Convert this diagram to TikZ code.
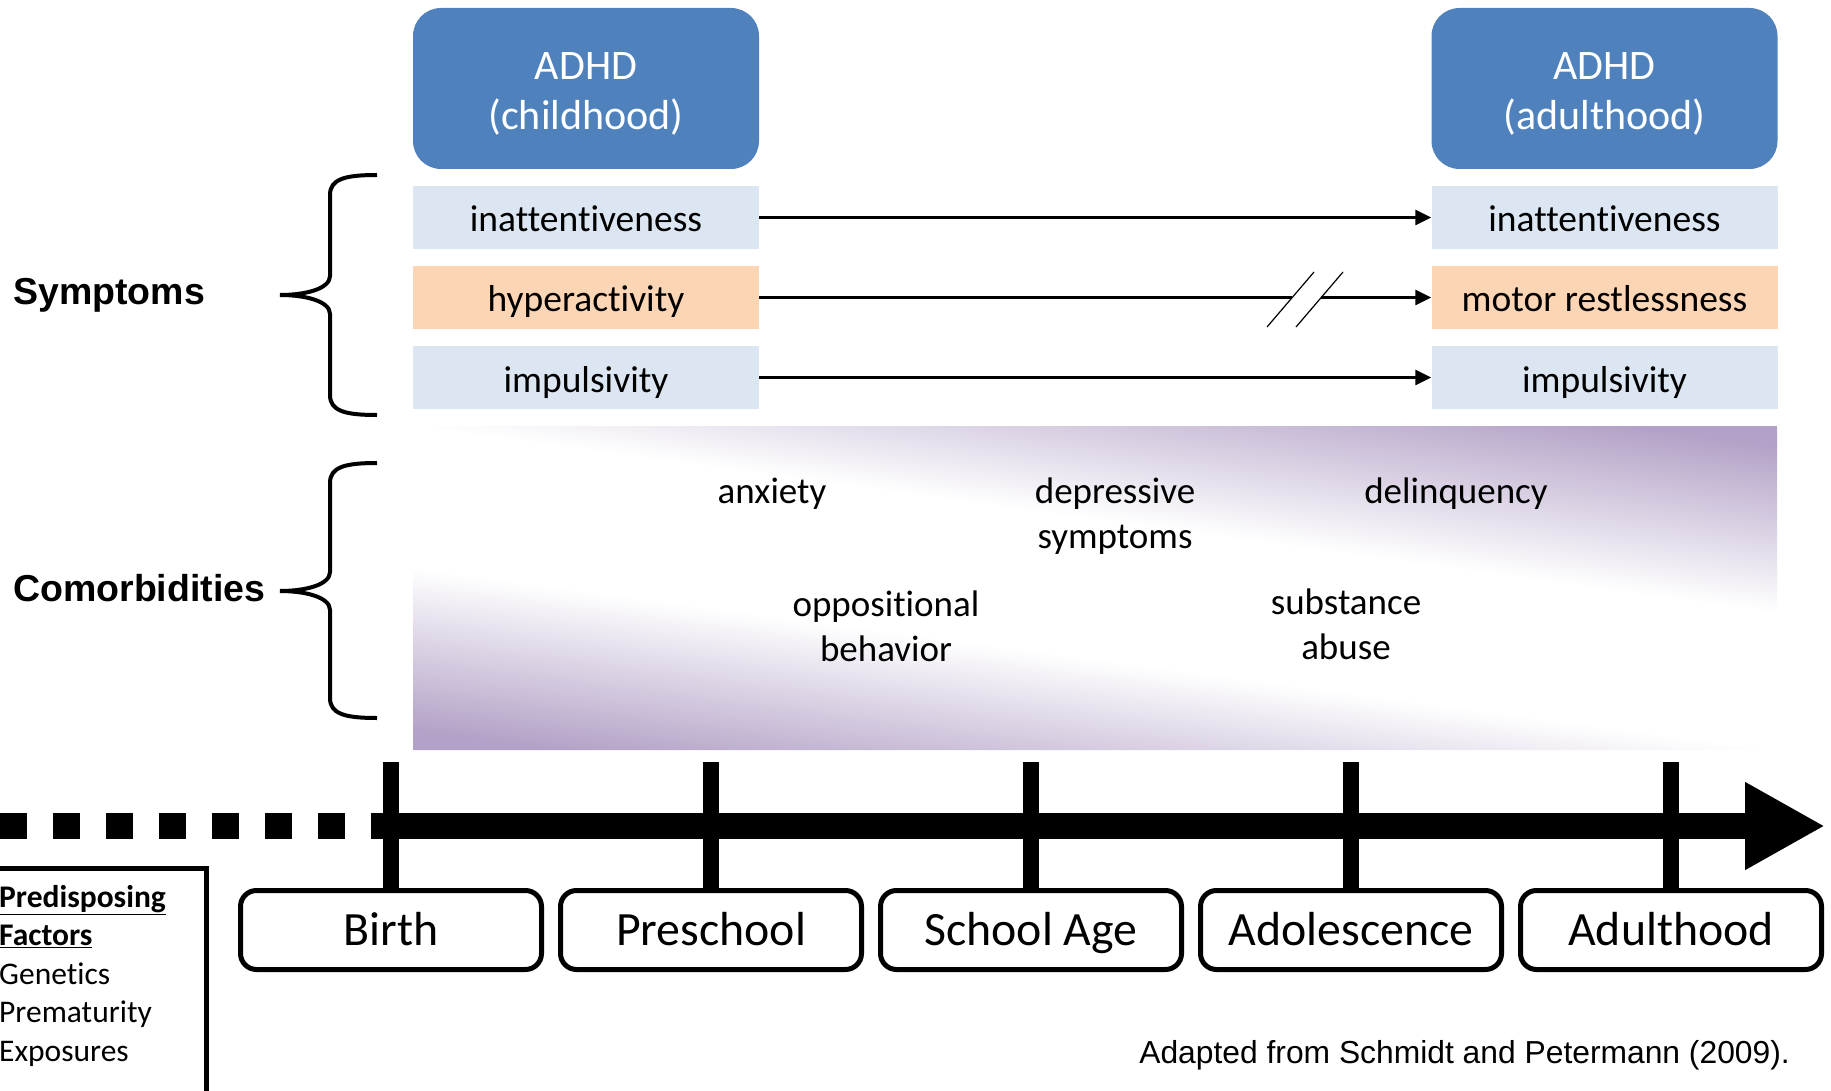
\documentclass[tikz,border=0pt]{standalone}
\usepackage{fontspec}
\setmainfont{Carlito}[Ligatures=NoCommon]
\newfontfamily\arialfont{Liberation Sans}
\usetikzlibrary{arrows.meta}

\definecolor{adhdblue}{HTML}{4F81BD}
\definecolor{symblue}{HTML}{DCE6F2}
\definecolor{symorange}{HTML}{FCD5B5}
\definecolor{comorbpurple}{HTML}{B3A2C7}

\begin{document}
\begin{tikzpicture}[x=1pt,y=-1pt]
	\tikzset{headbox/.style={fill=adhdblue,text=white,rounded corners=28pt,minimum width=346pt,minimum height=161pt,inner sep=0pt,align=center,text height=102pt,text depth=20pt,font=\fontsize{42}{50}\selectfont}}
	\tikzset{symbox/.style={minimum width=346pt,minimum height=63pt,inner sep=0pt,text height=33pt,text depth=4pt,font=\fontsize{37.5}{44}\selectfont}}
	\tikzset{symarrow/.style={line width=2.5pt,-{Triangle[length=16pt,width=15pt]}}}
	\tikzset{comorb/.style={align=center,anchor=base,inner sep=0pt,font=\fontsize{37}{45}\selectfont}}
	\tikzset{sidelabel/.style={anchor=base west,inner sep=0pt,font=\arialfont\bfseries\fontsize{37.5}{44}\selectfont}}
	\tikzset{bracestroke/.style={line width=4pt}}
	\tikzset{stagebox/.style={draw,line width=5pt,rounded corners=16pt,fill=white,minimum width=301pt,minimum height=79pt,inner sep=0pt,text height=40pt,text depth=10pt,font=\fontsize{47.8}{56}\selectfont}}
	\tikzset{stagetick/.style={line width=16pt}}
	\useasboundingbox (0,0) rectangle (1831,1091);

	% comorbidity backdrop
	\shade[top color=comorbpurple,bottom color=white,middle color=white,shading angle=-7.8] (413,426) -- (1777,426) -- (1777,613) -- cycle;
	\shade[top color=white,bottom color=comorbpurple,middle color=white,shading angle=-7.6] (413,567) -- (413,750) -- (1777,750) -- cycle;

	\node[headbox] (childhdr) at (586,88.5) {ADHD\\(childhood)};
	\node[headbox] (adulthdr) at (1604.5,88.5) {ADHD\\(adulthood)};

	\node[symbox,fill=symblue] (cinatt) at (586,217.5) {inattentiveness};
	\node[symbox,fill=symorange] (chyper) at (586,297.5) {hyperactivity};
	\node[symbox,fill=symblue] (cimpul) at (586,377.5) {impulsivity};
	\node[symbox,fill=symblue] (ainatt) at (1604.5,217.5) {inattentiveness};
	\node[symbox,fill=symorange] (amotor) at (1604.5,297.5) {motor restlessness};
	\node[symbox,fill=symblue] (aimpul) at (1604.5,377.5) {impulsivity};

	\coordinate (brk1) at (1292,297.5);
	\coordinate (brk2) at (1321,297.5);
	\draw[symarrow] (cinatt) -- (ainatt);
	\draw[line width=2.5pt] (chyper) -- (brk1);
	\draw[symarrow] (brk2) -- (amotor);
	\draw[symarrow] (cimpul) -- (aimpul);
	\draw[line width=1.2pt] (brk1) ++(-25,29.5) -- ++(47,-55);
	\draw[line width=1.2pt] (brk2) ++(-25,29.5) -- ++(47,-55);

	\node[sidelabel] (symlabel) at (13,305) {Symptoms};
	\node[sidelabel] (comlabel) at (13,601) {Comorbidities};
	\draw[bracestroke] (377,175) .. controls (345,175) and (330,179) .. (330,195) -- (330,276) .. controls (330,289) and (305,295) .. (280,295) .. controls (305,295) and (330,301) .. (330,314) -- (330,395) .. controls (330,411) and (345,415) .. (377,415);
	\draw[bracestroke] (377,463) .. controls (345,463) and (330,467) .. (330,483) -- (330,572) .. controls (330,585) and (305,591) .. (280,591) .. controls (305,591) and (330,597) .. (330,610) -- (330,698) .. controls (330,714) and (345,718) .. (377,718);

	\node[comorb] (anxiety) at (772,503) {anxiety};
	\node[comorb] (depress) at (1115,548) {depressive\\symptoms};
	\node[comorb] (delinq) at (1456,503) {delinquency};
	\node[comorb] (opposit) at (886,661) {oppositional\\behavior};
	\node[comorb] (substance) at (1346,659) {substance\\abuse};

	% timeline
	\coordinate (axisstart) at (0,826);
	\coordinate (axisjoin) at (374,826);
	\coordinate (axisend) at (1825,826);
	\draw[line width=26pt,dash pattern=on 26.5pt off 26.5pt] (axisstart) -- (axisjoin);
	\draw[line width=26pt,-{Triangle[length=80pt,width=82pt]}] (axisjoin) -- (axisend);
	\foreach \stg/\txt [count=\i from 0] in {birth/Birth,preschool/Preschool,schoolage/School Age,adolescence/Adolescence,adulthood/Adulthood}{
		\node[stagebox] (\stg) at (391+320*\i,930) {\txt};
		\draw[stagetick] (391+320*\i,762) -- (\stg.north);
	}

	\draw[line width=5pt] (-10,868) rectangle (206,1110);
	\node[anchor=base west,align=left,inner sep=0pt,font=\fontsize{31.5}{38.5}\selectfont] (factors) at (-1,1061) {\underline{\textbf{Predisposing}}\\\underline{\textbf{Factors}}\\Genetics\\Prematurity\\Exposures};

	\node[anchor=base east,inner sep=0pt,font=\arialfont\fontsize{31.8}{38}\selectfont] (source) at (1790,1063) {Adapted from Schmidt and Petermann (2009).};
\end{tikzpicture}
\end{document}
